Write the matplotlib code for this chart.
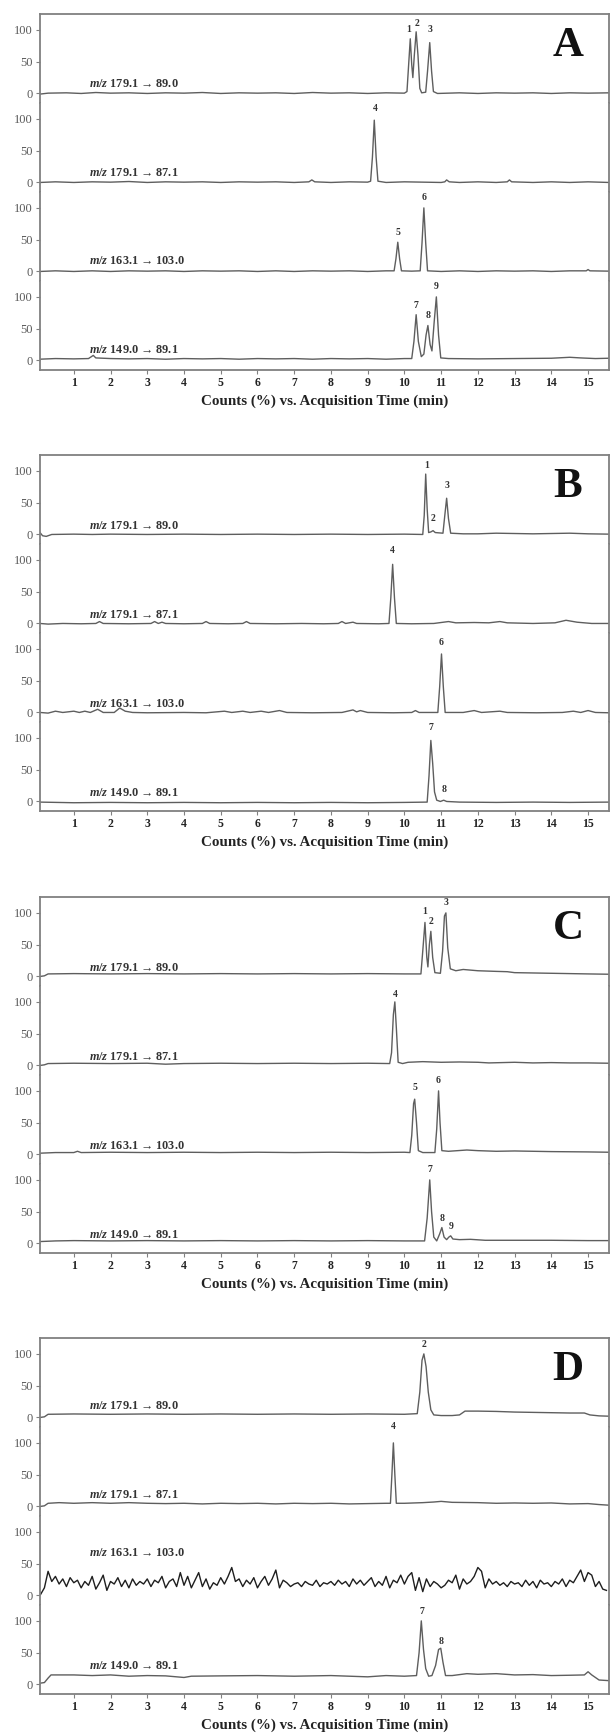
import numpy as np
import matplotlib
matplotlib.use('Agg')
import matplotlib.pyplot as plt

plt.rcParams['font.family'] = ['Liberation Serif', 'DejaVu Serif']
plt.rcParams['mathtext.fontset'] = 'custom'
plt.rcParams['mathtext.it'] = 'Liberation Serif:italic:bold'
plt.rcParams['mathtext.rm'] = 'Liberation Serif:bold'

#--------------------------------------------------------------------------
# Data: (time in min, counts in %)
#
TRANSITIONS = ['$m/z$ 179.1 \u2192 89.0', '$m/z$ 179.1 \u2192 87.1',
               '$m/z$ 163.1 \u2192 103.0', '$m/z$ 149.0 \u2192 89.1']
PANELS = ['A', 'B', 'C', 'D']
X_TICKS = list(range(1, 16))

# panel A
A1 = [(0.08, -1), (0.3, 0.5), (0.8, 1), (1.2, 0), (1.6, 1.5), (2.0, 0.5), (2.5, 1), (3.0, 0),
      (3.5, 1), (4.0, 0.5), (4.5, 1.5), (5.0, 0), (5.5, 1), (6.0, 0.5), (6.5, 1), (7.0, 0),
      (7.5, 1.5), (8.0, 0.5), (8.5, 1), (9.0, 0), (9.5, 1), (10.0, 0.5), (10.07, 3), (10.11, 40),
      (10.16, 86), (10.20, 45), (10.23, 25), (10.27, 60), (10.32, 97), (10.37, 60), (10.42, 8),
      (10.47, 1), (10.58, 2), (10.63, 35), (10.69, 80), (10.74, 35), (10.79, 3), (10.9, 0),
      (11.5, 1), (12.0, 0), (12.5, 1), (13.0, 0.5), (13.5, 1), (14.0, 0), (14.5, 1), (15.0, 0.5),
      (15.57, 1)]
A2 = [(0.08, 0), (0.5, 1), (1.0, 0), (1.5, 1), (2.0, 0.5), (2.5, 1.5), (3.0, 0), (3.5, 1),
      (4.0, 0.5), (4.5, 1), (5.0, 0), (5.5, 1), (6.0, 0.5), (6.5, 1), (7.0, 0), (7.4, 1),
      (7.48, 4), (7.56, 1), (8.0, 0), (8.5, 1), (9.0, 0.5), (9.08, 2), (9.13, 40), (9.18, 98),
      (9.23, 40), (9.28, 2), (9.5, 0), (10.0, 1), (10.5, 0.5), (11.0, 0), (11.1, 1), (11.15, 4),
      (11.22, 1), (11.5, 0), (12.0, 1), (12.5, 0), (12.8, 1), (12.86, 4), (12.92, 1), (13.5, 0),
      (14.0, 1), (14.5, 0), (15.0, 1), (15.57, 0)]
A3 = [(0.08, 0), (0.5, 1), (1.0, 0), (1.5, 1), (2.0, 0), (2.5, 1), (3.0, 0.5), (3.5, 1),
      (4.0, 0), (4.5, 1), (5.0, 0.5), (5.5, 1), (6.0, 0), (6.5, 1), (7.0, 0), (7.5, 1),
      (8.0, 0.5), (8.5, 1), (9.0, 0), (9.5, 1), (9.72, 1), (9.77, 20), (9.82, 46), (9.87, 20),
      (9.92, 1), (10.2, 0.5), (10.43, 1), (10.48, 45), (10.53, 100), (10.58, 45), (10.63, 1),
      (11.0, 0), (11.5, 1), (12.0, 0), (12.5, 1), (13.0, 0.5), (13.5, 1), (14.0, 0), (14.5, 1),
      (14.95, 1), (15.0, 3), (15.05, 1), (15.57, 0.5)]
A4 = [(0.08, 2), (0.5, 3), (1.0, 2.5), (1.4, 3), (1.48, 6), (1.53, 8), (1.6, 4), (2.0, 3),
      (2.5, 2.5), (3.0, 3), (3.5, 2), (4.0, 3), (4.5, 2.5), (5.0, 3), (5.5, 2), (6.0, 3),
      (6.5, 2.5), (7.0, 3), (7.5, 2), (8.0, 3), (8.5, 2.5), (9.0, 3), (9.5, 2), (10.0, 3),
      (10.2, 3), (10.26, 30), (10.32, 72), (10.38, 30), (10.46, 6), (10.53, 10), (10.59, 40),
      (10.64, 55), (10.70, 25), (10.75, 15), (10.81, 60), (10.87, 100), (10.93, 40), (10.99, 4),
      (11.2, 3), (12.0, 2.5), (13.0, 3), (14.0, 3.5), (14.5, 5), (14.8, 4), (15.2, 3), (15.57, 3.5)]

# panel B
B1 = [(0.08, 3), (0.15, -2), (0.25, -3), (0.4, 0), (1.0, 0.5), (1.5, 0), (2.0, 0.5), (3.0, 0),
      (4.0, 0.5), (5.0, 0), (6.0, 0.5), (7.0, 0), (8.0, 0.5), (9.0, 0), (10.0, 0.5), (10.5, 0),
      (10.54, 30), (10.58, 95), (10.62, 40), (10.66, 3), (10.72, 4), (10.78, 6), (10.84, 3),
      (11.05, 2), (11.10, 30), (11.15, 57), (11.20, 25), (11.26, 2), (11.6, 1), (12.0, 1),
      (12.5, 2), (13.0, 1.5), (13.5, 1), (14.0, 1.5), (14.5, 2), (15.0, 1), (15.57, 0.5)]
B2 = [(0.08, 0), (0.3, -1), (0.7, 0), (1.2, -0.5), (1.6, 0), (1.7, 3), (1.8, 0), (2.5, -0.5),
      (3.1, 0), (3.2, 3), (3.3, 0), (3.4, 2), (3.5, 0), (4.0, -0.5), (4.5, 0), (4.6, 3), (4.7, 0),
      (5.2, -0.5), (5.6, 0), (5.7, 3), (5.8, 0), (6.5, -0.5), (7.2, 0), (7.8, -0.5), (8.2, 0),
      (8.3, 3), (8.4, 0), (8.6, 2), (8.7, 0), (9.3, -0.5), (9.58, 0), (9.63, 40), (9.68, 93),
      (9.73, 40), (9.78, 0), (10.2, -0.5), (10.8, 0), (11.2, 3), (11.4, 1), (11.9, 1.5),
      (12.3, 1), (12.6, 3), (12.8, 1), (13.5, 0), (14.1, 1), (14.4, 5), (14.7, 2), (15.1, 0),
      (15.57, 0)]
B3 = [(0.08, 0), (0.3, -1), (0.5, 2), (0.7, 0), (1.0, 2), (1.15, 0), (1.3, 2), (1.45, 0),
      (1.65, 5), (1.8, 0), (2.1, 0), (2.25, 7), (2.4, 2), (2.6, 0), (3.0, -0.5), (4.0, 0),
      (4.6, -0.5), (5.1, 2), (5.3, 0), (5.6, 2), (5.8, 0), (6.1, 2), (6.3, 0), (6.6, 3), (6.8, 0),
      (7.5, -0.5), (8.3, 0), (8.6, 4), (8.7, 1), (8.8, 3), (9.0, 0), (9.7, -0.5), (10.2, 0),
      (10.3, 3), (10.4, 0), (10.91, 0), (10.96, 40), (11.01, 92), (11.06, 40), (11.11, 0),
      (11.6, 0), (11.9, 3), (12.1, 0), (12.6, 2), (12.8, 0), (13.6, -0.5), (14.3, 0), (14.6, 2),
      (14.8, 0), (15.0, 3), (15.2, 0), (15.57, -0.5)]
B4 = [(0.08, -1), (1.0, -2), (2.0, -1.5), (3.0, -2), (4.0, -1.5), (5.0, -2), (6.0, -1.5),
      (7.0, -2), (8.0, -1.5), (9.0, -2), (10.0, -1.5), (10.62, -1), (10.67, 40), (10.72, 96),
      (10.77, 60), (10.82, 15), (10.88, 2), (10.98, 0), (11.07, 2), (11.15, 0), (11.5, -1),
      (12.5, -1.5), (13.5, -1), (14.5, -1.5), (15.57, -1)]

# panel C
C1 = [(0.08, 0), (0.2, 1), (0.3, 4), (1.0, 4.5), (2.0, 4), (3.0, 4.5), (4.0, 4), (5.0, 4.5),
      (6.0, 4), (7.0, 4.5), (8.0, 4), (9.0, 4.5), (10.0, 4), (10.45, 4), (10.50, 40), (10.56, 85),
      (10.61, 30), (10.64, 15), (10.68, 50), (10.72, 71), (10.77, 30), (10.83, 6), (10.98, 5),
      (11.04, 40), (11.09, 95), (11.13, 100), (11.18, 45), (11.25, 12), (11.4, 9), (11.6, 11),
      (11.8, 10), (12.0, 9), (12.5, 8), (12.8, 7.5), (13.0, 6), (13.5, 5.5), (14.0, 5),
      (14.5, 4.5), (15.0, 4), (15.57, 3.5)]
C2 = [(0.08, 0), (0.2, 1), (0.3, 3), (1.0, 3.5), (2.0, 3), (3.0, 3.5), (3.5, 2), (4.0, 3),
      (5.0, 3.5), (6.0, 3), (7.0, 3.5), (8.0, 3), (9.0, 3.5), (9.6, 3), (9.65, 20), (9.70, 80),
      (9.74, 100), (9.78, 60), (9.83, 5), (9.95, 3), (10.1, 5), (10.5, 6), (11.0, 5), (11.5, 5.5),
      (12.0, 5), (12.3, 4), (13.0, 5), (13.5, 4), (14.0, 4.5), (14.5, 4), (15.0, 4), (15.57, 3.5)]
C3 = [(0.08, 2), (0.5, 3), (1.0, 3), (1.1, 5), (1.2, 3), (2.0, 3.5), (3.0, 3), (4.0, 3.5),
      (5.0, 3), (6.0, 3.5), (7.0, 3), (8.0, 3.5), (9.0, 3), (10.0, 3.5), (10.15, 3), (10.20, 30),
      (10.25, 80), (10.28, 87), (10.33, 50), (10.38, 6), (10.5, 3), (10.83, 3), (10.88, 40),
      (10.93, 100), (10.97, 50), (11.02, 6), (11.2, 5), (11.7, 7), (12.0, 6), (12.5, 5),
      (13.0, 5.5), (13.5, 5), (14.0, 4.5), (15.0, 4), (15.57, 3.5)]
C4 = [(0.08, 3), (0.5, 4), (1.0, 4.5), (2.0, 4), (3.0, 4.5), (4.0, 4), (5.0, 4.5), (6.0, 4),
      (7.0, 4.5), (8.0, 4), (9.0, 4.5), (10.0, 4), (10.55, 4), (10.62, 40), (10.69, 100),
      (10.74, 50), (10.80, 10), (10.88, 4), (10.96, 15), (11.02, 25), (11.08, 10), (11.15, 6),
      (11.21, 10), (11.26, 12), (11.32, 7), (11.5, 6), (11.8, 6.5), (12.2, 5), (13.0, 5),
      (14.0, 5), (15.0, 4.5), (15.57, 4.5)]

# panel D
D1 = [(0.08, 0), (0.2, 1), (0.3, 5), (1.0, 5.5), (2.0, 5), (3.0, 5.5), (4.0, 5), (5.0, 5.5),
      (6.0, 5), (7.0, 5.5), (8.0, 5), (9.0, 5.5), (10.0, 5), (10.35, 6), (10.42, 40), (10.48, 90),
      (10.53, 100), (10.59, 80), (10.65, 40), (10.72, 12), (10.80, 4), (11.0, 3), (11.3, 3),
      (11.5, 4), (11.65, 10), (12.0, 10), (12.5, 9.5), (13.0, 8.5), (13.5, 8), (14.0, 7.5),
      (14.5, 7), (14.9, 7), (15.05, 4), (15.3, 2.5), (15.57, 2)]
D2 = [(0.08, 0), (0.2, 1), (0.3, 5), (0.6, 6), (1.0, 5), (1.5, 6), (2.0, 5), (2.5, 6), (3.0, 5),
      (3.5, 4.5), (4.0, 5), (4.5, 4), (5.0, 5), (5.5, 4.5), (6.0, 5), (6.5, 4), (7.0, 5),
      (7.5, 4.5), (8.0, 5), (8.5, 4), (9.0, 4.5), (9.5, 5), (9.62, 5), (9.66, 50), (9.70, 100),
      (9.74, 50), (9.78, 5), (10.0, 5), (10.5, 6), (10.8, 7), (11.0, 8), (11.3, 6.5), (12.0, 6),
      (12.5, 5), (13.0, 5.5), (13.5, 5), (14.0, 5.5), (14.5, 4), (15.0, 4.5), (15.3, 3),
      (15.57, 2)]
# noisy trace, one value every 0.1 min from 0.1 to 15.5
D3_counts = [2, 12, 38, 22, 30, 18, 26, 14, 28, 20,
             24, 12, 22, 16, 30, 10, 20, 32, 8, 22,
             18, 28, 14, 24, 12, 26, 16, 22, 18, 26,
             14, 24, 20, 30, 12, 22, 26, 14, 36, 16,
             30, 12, 24, 36, 14, 26, 10, 20, 16, 28,
             18, 30, 44, 22, 26, 14, 24, 18, 28, 12,
             22, 30, 16, 26, 40, 12, 24, 20, 14, 18,
             20, 14, 22, 18, 16, 24, 14, 20, 18, 22,
             16, 24, 18, 22, 14, 26, 18, 24, 16, 22,
             28, 14, 22, 16, 30, 12, 24, 20, 32, 18,
             30, 36, 8, 28, 6, 26, 14, 22, 18, 12,
             16, 24, 20, 32, 10, 26, 18, 22, 30, 44,
             38, 12, 26, 18, 22, 16, 20, 14, 22, 18,
             20, 14, 24, 16, 22, 12, 24, 18, 20, 14,
             22, 18, 26, 14, 24, 20, 30, 40, 22, 36,
             32, 14, 22, 10, 8]
D3_times = np.arange(1, len(D3_counts) + 1) / 10.0
D3 = list(zip(D3_times, D3_counts))
D4 = [(0.08, 2), (0.2, 3), (0.3, 10), (0.38, 15), (1.0, 15), (1.5, 14), (2.0, 15), (2.5, 13),
      (3.0, 14), (3.5, 13.5), (4.0, 11), (4.2, 13), (5.0, 13.5), (6.0, 14), (7.0, 13), (8.0, 14),
      (8.5, 13), (9.0, 12), (9.5, 14), (10.0, 13), (10.33, 14), (10.40, 50), (10.46, 100),
      (10.52, 55), (10.58, 25), (10.66, 13), (10.75, 14), (10.85, 30), (10.93, 55), (10.99, 57),
      (11.05, 35), (11.12, 14), (11.3, 14), (11.7, 17), (12.0, 16), (12.5, 17), (13.0, 15),
      (13.5, 15.5), (14.0, 14), (14.5, 14.5), (14.9, 15), (15.0, 20), (15.1, 15), (15.3, 7),
      (15.57, 6)]

TRACES = [[A1, A2, A3, A4], [B1, B2, B3, B4], [C1, C2, C3, C4], [D1, D2, D3, D4]]

# peak numbers: (label, time, height of the label)
PEAKS_A = [[('1', 10.13, 101), ('2', 10.33, 110), ('3', 10.70, 100)],
           [('4', 9.20, 116)],
           [('5', 9.82, 61), ('6', 10.53, 117)],
           [('7', 10.32, 87), ('8', 10.64, 71), ('9', 10.87, 117)]]
PEAKS_B = [[('1', 10.60, 109), ('2', 10.78, 25), ('3', 11.15, 77)],
           [('4', 9.68, 114)],
           [('6', 11.01, 110)],
           [('7', 10.73, 117), ('8', 11.08, 19)]]
PEAKS_C = [[('1', 10.55, 102), ('2', 10.73, 86), ('3', 11.12, 116)],
           [('4', 9.74, 111)],
           [('5', 10.28, 105), ('6', 10.93, 116)],
           [('7', 10.69, 116), ('8', 11.02, 40), ('9', 11.27, 26)]]
PEAKS_D = [[('2', 10.53, 115)],
           [('4', 9.70, 126)],
           [],
           [('7', 10.47, 114), ('8', 10.99, 68)]]
PEAKS = [PEAKS_A, PEAKS_B, PEAKS_C, PEAKS_D]

# height at which each transition name sits
NAME_Y = [[10, 10, 12, 12], [9, 9, 9, 9], [9, 9, 9, 9], [14, 14, 62, 25]]

#--------------------------------------------------------------------------
# Make the figure
#
W, H = 611, 1735
PANEL_TOP = [14, 455, 897, 1338]
ROW_H = 89
AX_L, AX_R = 40, 609
SPINE_C = '#808080'

fig = plt.figure(figsize=(W / 100, H / 100), dpi=100)

for p in range(4):
    for k in range(4):
        top = PANEL_TOP[p] + ROW_H * k
        ax = fig.add_axes([AX_L / W, 1 - (top + ROW_H) / H, (AX_R - AX_L) / W, ROW_H / H])
        pts = np.array(TRACES[p][k], dtype=float)
        col = '#1e1e1e' if (p == 3 and k == 2) else '#5e5e5e'
        ax.plot(pts[:, 0], pts[:, 1], color=col, lw=1.0)
        ax.set_xlim(0.08, 15.57)
        ax.set_ylim(-15, 125)

        for sp in ax.spines.values():
            sp.set_color(SPINE_C)
            sp.set_linewidth(1.3)
        ax.spines['top'].set_visible(k == 0)
        ax.spines['bottom'].set_visible(k == 3)

        ax.set_yticks([0, 50, 100])
        ax.tick_params(axis='y', length=3, width=0.8, color=SPINE_C, labelsize=9,
                       labelcolor='#5a5a5a', pad=2)
        if k == 3:
            ax.set_xticks(X_TICKS)
            ax.tick_params(axis='x', length=3, width=0.8, color=SPINE_C, labelsize=8.5,
                           labelcolor='#222222', pad=2)
            for lb in ax.get_xticklabels():
                lb.set_fontweight('bold')
        else:
            ax.set_xticks([])

        # transition name
        ax.text(1.41, NAME_Y[p][k], TRANSITIONS[k], fontsize=8.8, fontweight='bold',
                color='#333333', va='baseline', ha='left')
        # peak numbers
        for lab, t, y in PEAKS[p][k]:
            ax.text(t, y, lab, fontsize=7, fontweight='bold', color='#333333',
                    ha='center', va='center')

        if k == 0:
            ax.text(0.928, 0.64, PANELS[p], transform=ax.transAxes, fontsize=31,
                    fontweight='bold', ha='center', va='center', color='#111111')

    fig.text((AX_L + AX_R) / 2 / W, 1 - (PANEL_TOP[p] + 387) / H,
             'Counts (%) vs. Acquisition Time (min)', fontsize=10.8, fontweight='bold',
             color='#222222', ha='center', va='center')

fig.savefig('out.png', dpi=100)
